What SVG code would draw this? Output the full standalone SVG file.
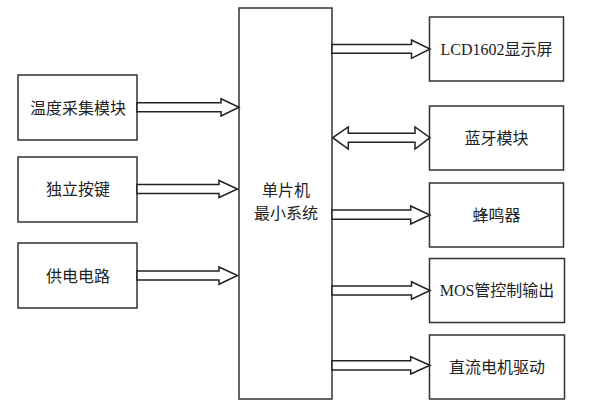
<svg xmlns="http://www.w3.org/2000/svg" width="589" height="412" viewBox="0 0 589 412">
<style>
.box{fill:#fff;stroke:#333;stroke-width:1.5}
.arr{fill:#fff;stroke:#222;stroke-width:1.5;stroke-linejoin:miter}
text{font-family:"Liberation Serif","Noto Sans CJK SC",serif;font-size:16px;fill:#222;text-anchor:middle;dominant-baseline:central}
</style>
<rect width="589" height="412" fill="#fff"/>
<g id="mcu"><rect class="box" x="239" y="8" width="93" height="391"/><text x="286" y="190">单片机</text><text x="286" y="213.5">最小系统</text></g>
<g id="temp"><rect class="box" x="18" y="75" width="119" height="65"/><text x="78" y="108">温度采集模块</text></g>
<g id="key"><rect class="box" x="18" y="157" width="119" height="65"/><text x="78" y="189.5">独立按键</text></g>
<g id="power"><rect class="box" x="18" y="243" width="119" height="65"/><text x="78" y="276">供电电路</text></g>
<g id="lcd"><rect class="box" x="429.5" y="17" width="134" height="64"/><text x="496.5" y="49.5">LCD1602显示屏</text></g>
<g id="bt"><rect class="box" x="429.5" y="106" width="134" height="64"/><text x="496.5" y="138">蓝牙模块</text></g>
<g id="buzzer"><rect class="box" x="429.5" y="183" width="134" height="64"/><text x="496.5" y="215">蜂鸣器</text></g>
<g id="mos"><rect class="box" x="429.5" y="258.5" width="135" height="64"/><text x="497" y="290.5">MOS管控制输出</text></g>
<g id="motor"><rect class="box" x="429.5" y="335" width="135" height="64"/><text x="497" y="367">直流电机驱动</text></g>
<g id="connectors">
<polygon class="arr" points="137,102.7 221,102.7 221,98.7 239,107.3 221,116 221,111.7 137,111.7"/>
<polygon class="arr" points="137,184.5 219,184.5 219,180.5 237.5,189 219,197.5 219,193.5 137,193.5"/>
<polygon class="arr" points="137,271 219,271 219,267 237.5,275.5 219,284.3 219,280 137,280"/>
<polygon class="arr" points="332,44.5 411.5,44.5 411.5,40 430,49 411.5,58.3 411.5,53.3 332,53.3"/>
<polygon class="arr" points="332.7,137.7 348.3,127 348.3,133.3 415,133.3 415,127 430,137.7 415,149 415,142.3 348.3,142.3 348.3,149"/>
<polygon class="arr" points="332,210 410.7,210 410.7,206 430,215 410.7,224 410.7,219.3 332,219.3"/>
<polygon class="arr" points="332,286 411.5,286 411.5,281.7 430,290.5 411.5,299.3 411.5,295 332,295"/>
<polygon class="arr" points="332,360.7 410.7,360.7 410.7,356.7 430,365.3 410.7,374 410.7,370 332,370"/>
</g>
</svg>
